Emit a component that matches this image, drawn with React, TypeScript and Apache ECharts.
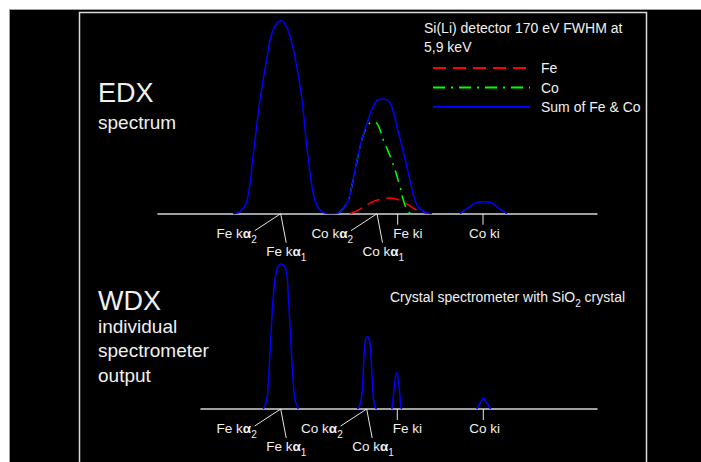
import React, { useEffect, useRef } from "react";
import * as echarts from "echarts";

// x: position along the spectrum (arbitrary channel units), y: intensity (% of EDX Fe Kα peak)
const edxSum: [number, number][] = [
  [75, 0], [82, 1], [89, 6.7], [95, 29.5], [102, 59], [109, 81], [115, 95], [123, 100],
  [130, 95], [137, 81], [144, 59], [150, 29.5], [157, 6.7], [164, 1], [172, 0],
  [180, 0.3], [182, 0.9], [189, 5.5], [193, 12.3], [202, 34.6], [210, 48.5], [217, 57.4],
  [224, 59.4], [232, 57.4], [239, 44.9], [249, 24.2], [255, 10.7], [260, 3.5], [269, 0.4], [274, 0],
];
const edxCoKb: [number, number][] = [[302, 0], [310, 3], [317, 5.5], [325, 6.2], [334, 5.5], [340, 3], [349, 0]];
const edxCo: [number, number][] = [
  [180, 0.3], [182, 0.9], [189, 5.5], [193, 12.3], [202, 34.6], [206, 41.8], [210, 46], [214, 47.4],
  [217, 47.5], [221, 44.8], [225.3, 38.2], [233.7, 27.8], [242, 14], [245.3, 7.1], [250.3, 1], [255, 0],
];
const edxFe: [number, number][] = [
  [192, 0], [202, 2.4], [212, 5.5], [222, 7.4], [231, 8.1], [238, 7.6], [245, 6.1], [252, 4], [259, 1.9], [269, 0],
];
const wdxFeKa: [number, number][] = [
  [105.3, 0], [108.7, 4.7], [110.3, 13.5], [112.7, 35.8], [115.3, 58.2], [118.7, 72], [123, 75.1],
  [128, 72], [130.3, 58.2], [132.7, 35.8], [135.3, 13.5], [137, 4.7], [140.3, 0],
];
const wdxCoKa: [number, number][] = [
  [199.3, 0], [201.3, 1.2], [203.7, 6.4], [205.3, 20.2], [207, 34], [209.3, 37.5],
  [212, 34], [213.7, 20.2], [215.3, 6.4], [217, 1.2], [218.7, 0],
];
const wdxFeKb: [number, number][] = [
  [233.7, 0], [234.3, 1.2], [235.3, 6.4], [237, 15], [238.7, 18.8], [240.3, 15], [242, 6.4], [242.7, 1.2], [243.7, 0],
];
const wdxCoKb: [number, number][] = [[318.7, 0], [325.3, 5.9], [332.7, 0]];

// line positions (same channel units)
const edxAlphaX = [122.7, 219];
const edxBetaX = [239.7, 325];
const wdxAlphaX = [122.7, 208.7];
const wdxBetaX = [239.3, 325.3];
const elements = ["Fe", "Co"];
const betaLabels = ["Fe ki", "Co ki"];
const legendNames = ["Fe", "Co", "Sum of Fe & Co"];

const FONT = "'Liberation Sans', Arial, sans-serif";
const TEXT = "#f0f0f0";
const BLUE = "#0000ff";

type Part = { t: string; bold?: boolean; sub?: boolean };

let ctx: CanvasRenderingContext2D | null = null;
function measure(text: string, size: number, bold: boolean) {
  if (!ctx) ctx = document.createElement("canvas").getContext("2d");
  ctx!.font = `${bold ? "bold " : ""}${size}px ${FONT}`;
  return ctx!.measureText(text).width;
}

function richText(parts: Part[], x: number, baseline: number, size: number, align: "left" | "right" = "left") {
  const subSize = Math.round(size * 0.72);
  const subShift = size * 0.38;
  const widths = parts.map((p) => measure(p.t, p.sub ? subSize : size, !!p.bold));
  const total = widths.reduce((a, b) => a + b, 0);
  let cx = align === "right" ? x - total : x;
  return parts.map((p, i) => {
    const fs = p.sub ? subSize : size;
    const el = {
      type: "text",
      silent: true,
      z: 10,
      style: {
        text: p.t,
        x: cx,
        y: baseline + (p.sub ? subShift : 0) - 0.3465 * fs,
        fontSize: fs,
        fontFamily: FONT,
        fontWeight: p.bold ? "bold" : "normal",
        fill: TEXT,
        align: "left",
        verticalAlign: "middle",
      },
    };
    cx += widths[i];
    return el;
  });
}

function seg(x1: number, y1: number, x2: number, y2: number) {
  return {
    type: "line",
    silent: true,
    z: 10,
    shape: { x1, y1, x2, y2 },
    style: { stroke: "#e6e6e6", lineWidth: 1 },
  };
}

function lineSeries(name: string, data: [number, number][], grid: number, color: string, type: any, z: number, smooth: any = 0.4) {
  return {
    name,
    type: "line",
    xAxisIndex: grid,
    yAxisIndex: grid,
    data,
    smooth,
    symbol: "none",
    z,
    lineStyle: { color, width: 1.5, type },
    itemStyle: { color },
  };
}

export default function App() {
  const ref = useRef<HTMLDivElement>(null);
  useEffect(() => {
    if (!ref.current) return;
    const chart = echarts.init(ref.current, undefined, { renderer: "svg" });
    const axisX = (grid: number, min: number) => ({
      type: "value",
      gridIndex: grid,
      min,
      max: 439,
      axisLine: { show: true, onZero: false, lineStyle: { color: "#d4d4d4", width: 1.5 } },
      axisTick: { show: false },
      axisLabel: { show: false },
      splitLine: { show: false },
    });
    const axisY = (grid: number) => ({
      type: "value",
      gridIndex: grid,
      min: 0,
      max: 100,
      show: false,
      splitLine: { show: false },
    });
    chart.setOption({
      animation: false,
      backgroundColor: "#ffffff",
      grid: [
        { left: 158, right: 104, top: 20.7, height: 193 },
        { left: 201, right: 104, top: 216, height: 193 },
      ],
      xAxis: [axisX(0, 0), axisX(1, 43)],
      yAxis: [axisY(0), axisY(1)],
      legend: {
        data: legendNames,
        orient: "vertical",
        left: 432,
        top: 61,
        padding: 0,
        itemWidth: 97,
        itemHeight: 14,
        itemGap: 5.5,
        selectedMode: false,
        itemStyle: { opacity: 0, borderWidth: 0 },
        textStyle: { color: TEXT, fontSize: 14, fontFamily: FONT, lineHeight: 14, padding: [0, 0, 0, 6] },
      },
      series: [
        lineSeries("Fe", edxFe, 0, "#ff0000", [13, 7], 3),
        lineSeries("Co", edxCo, 0, "#00ff00", [12, 6, 2, 6], 2),
        lineSeries("Sum of Fe & Co", edxSum, 0, BLUE, "solid", 4),
        lineSeries("Sum of Fe & Co", edxCoKb, 0, BLUE, "solid", 4),
        lineSeries("WDX Fe", wdxFeKa, 1, BLUE, "solid", 4),
        lineSeries("WDX Co", wdxCoKa, 1, BLUE, "solid", 4),
        lineSeries("WDX Fe kb", wdxFeKb, 1, BLUE, "solid", 4),
        lineSeries("WDX Co kb", wdxCoKb, 1, BLUE, "solid", 4, false),
      ],
    });

    const g: any[] = [
      {
        type: "rect",
        silent: true,
        z: -100,
        shape: { x: 9.5, y: 9.5, width: 700, height: 460 },
        style: { fill: "#000000", stroke: "#a0a0a0", lineWidth: 1 },
      },
      {
        type: "rect",
        silent: true,
        z: -90,
        shape: { x: 79.5, y: 12.5, width: 567, height: 470 },
        style: { fill: "none", stroke: "#dcdcdc", lineWidth: 1.5 },
      },
      ...richText([{ t: "EDX" }], 98, 102.7, 27),
      ...richText([{ t: "spectrum" }], 98, 129, 19),
      ...richText([{ t: "WDX" }], 98, 310, 27),
      ...richText([{ t: "individual" }], 98, 332.7, 19),
      ...richText([{ t: "spectrometer" }], 98, 357.3, 19),
      ...richText([{ t: "output" }], 98, 381.7, 19),
      ...richText([{ t: "Si(Li) detector 170 eV FWHM at" }], 424, 33.3, 14),
      ...richText([{ t: "5,9 keV" }], 424, 52, 14),
      ...richText([{ t: "Crystal spectrometer with SiO" }, { t: "2", sub: true }, { t: " crystal" }], 390, 301.7, 14),
    ];

    const annotate = (grid: number, alphaX: number[], betaX: number[]) => {
      alphaX.forEach((x, i) => {
        const [px, py] = chart.convertToPixel({ gridIndex: grid }, [x, 0]) as number[];
        g.push(seg(px, py, px - 26, py + 17));
        g.push(seg(px, py, px + 5.5, py + 29));
        g.push(...richText([{ t: elements[i] + " k" }, { t: "α", bold: true }, { t: "2", sub: true }], px - 24, py + 24, 13.5, "right"));
        g.push(...richText([{ t: elements[i] + " k" }, { t: "α", bold: true }, { t: "1", sub: true }], px - 14.5, py + 42.3, 13.5));
      });
      const shifts = [-4.5, -14];
      betaX.forEach((x, i) => {
        const [px, py] = chart.convertToPixel({ gridIndex: grid }, [x, 0]) as number[];
        g.push(seg(px, py, px, py + 11));
        g.push(...richText([{ t: betaLabels[i] }], px + shifts[i], py + 24, 13.5));
      });
    };
    annotate(0, edxAlphaX, edxBetaX);
    annotate(1, wdxAlphaX, wdxBetaX);

    chart.setOption({ graphic: g });
    return () => chart.dispose();
  }, []);
  return <div ref={ref} style={{ position: "fixed", left: 0, top: 0, width: 701, height: 462 }} />;
}
